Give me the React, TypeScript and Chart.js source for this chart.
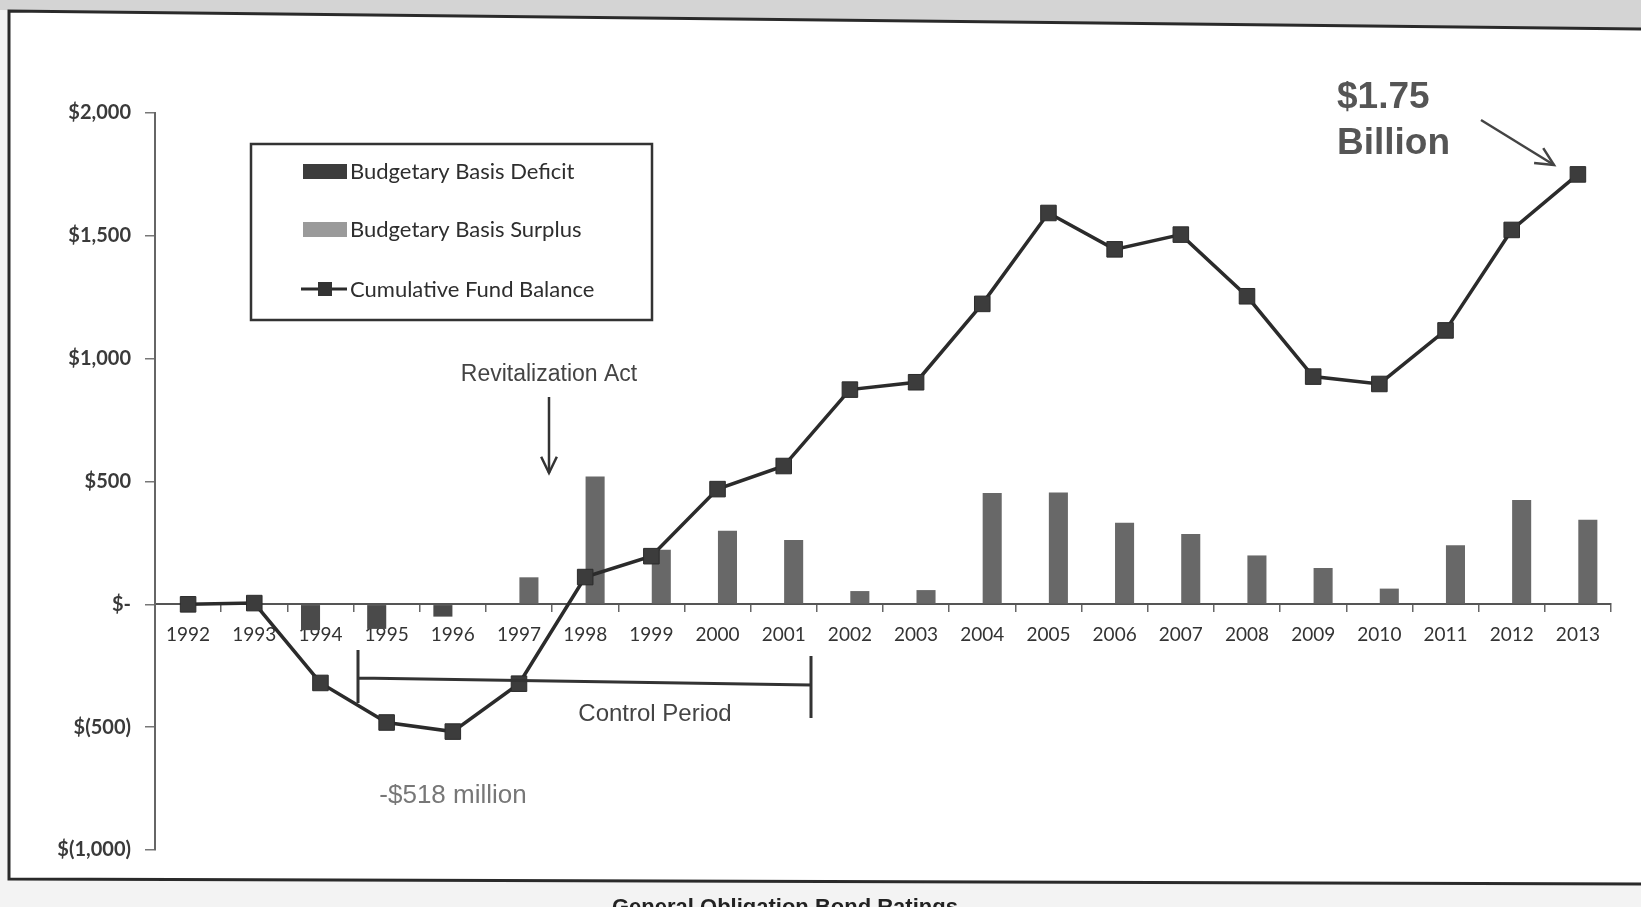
import React, { useEffect, useRef } from "react";
import { Chart, registerables } from "chart.js";

Chart.register(...registerables);

const years = ["1992","1993","1994","1995","1996","1997","1998","1999","2000","2001","2002","2003","2004","2005","2006","2007","2008","2009","2010","2011","2012","2013"];
const balance = [0, 5, -320, -481, -518, -323, 111, 196, 469, 563, 874, 904, 1223, 1593, 1445, 1505, 1254, 927, 897, 1115, 1524, 1750];
const deficit = [null, null, -105, -100, -50, null, null, null, null, null, null, null, null, null, null, null, null, null, null, null, null, null];
const surplus = [null, null, null, null, null, 110, 520, 222, 300, 262, 54, 58, 453, 455, 332, 286, 199, 148, 64, 241, 425, 344];
const yTicks = [-1000, -500, 0, 500, 1000, 1500, 2000];

const fmtY = (v: number) => {
  if (v === 0) return "$-";
  const s = Math.abs(v).toLocaleString("en-US");
  return v < 0 ? `$(${s})` : `$${s}`;
};

const arrow = (ctx: CanvasRenderingContext2D, x1: number, y1: number, x2: number, y2: number, head: number) => {
  ctx.beginPath();
  ctx.moveTo(x1, y1);
  ctx.lineTo(x2, y2);
  ctx.stroke();
  const a = Math.atan2(y2 - y1, x2 - x1);
  ctx.beginPath();
  ctx.moveTo(x2 - head * Math.cos(a - 0.45), y2 - head * Math.sin(a - 0.45));
  ctx.lineTo(x2, y2);
  ctx.lineTo(x2 - head * Math.cos(a + 0.45), y2 - head * Math.sin(a + 0.45));
  ctx.stroke();
};

const decor = {
  id: "decor",
  beforeDraw(chart: any) {
    const ctx = chart.ctx as CanvasRenderingContext2D;
    const W = chart.width, H = chart.height;
    ctx.save();
    ctx.fillStyle = "#f3f3f3";
    ctx.fillRect(0, 0, W, H);
    ctx.fillStyle = "#ffffff";
    ctx.beginPath();
    ctx.moveTo(9, 11);
    ctx.lineTo(W, 29);
    ctx.lineTo(W, 884);
    ctx.lineTo(9, 879);
    ctx.closePath();
    ctx.fill();
    ctx.fillStyle = "#d4d4d4";
    ctx.beginPath();
    ctx.moveTo(0, 0);
    ctx.lineTo(W, 0);
    ctx.lineTo(W, 28);
    ctx.lineTo(0, 10);
    ctx.closePath();
    ctx.fill();
    ctx.restore();
  },
  afterDraw(chart: any) {
    const ctx = chart.ctx as CanvasRenderingContext2D;
    const W = chart.width;
    ctx.save();
    // frame
    ctx.strokeStyle = "#2a2a2a";
    ctx.lineWidth = 3;
    ctx.beginPath();
    ctx.moveTo(W, 29);
    ctx.lineTo(9, 11);
    ctx.lineTo(9, 879);
    ctx.lineTo(W, 884);
    ctx.stroke();

    // legend
    ctx.lineWidth = 2.5;
    ctx.strokeStyle = "#333";
    ctx.fillStyle = "#ffffff";
    ctx.fillRect(251, 144, 401, 176);
    ctx.strokeRect(251, 144, 401, 176);
    ctx.font = "22px Lato";
    ctx.textBaseline = "middle";
    ctx.textAlign = "left";
    ctx.fillStyle = "#3c3c3c";
    ctx.fillRect(303, 164, 44, 15);
    ctx.fillStyle = "#9a9a9a";
    ctx.fillRect(303, 222, 44, 15);
    ctx.strokeStyle = "#2b2b2b";
    ctx.lineWidth = 3;
    ctx.beginPath();
    ctx.moveTo(301, 289);
    ctx.lineTo(347, 289);
    ctx.stroke();
    ctx.fillStyle = "#333";
    ctx.fillRect(318, 282, 14, 14);
    ctx.fillStyle = "#2e2e2e";
    ctx.fillText("Budgetary Basis Deficit", 350, 172);
    ctx.fillText("Budgetary Basis Surplus", 350, 230);
    ctx.fillText("Cumulative Fund Balance", 350, 290);

    // annotations
    ctx.fillStyle = "#444";
    ctx.textAlign = "center";
    ctx.font = "23px 'Liberation Sans'";
    ctx.fillText("Revitalization Act", 549, 375);
    ctx.font = "24px 'Liberation Sans'";
    ctx.fillText("Control Period", 655, 714);
    ctx.strokeStyle = "#333";
    ctx.lineWidth = 2.5;
    arrow(ctx, 549, 397, 549, 473, 18);

    ctx.lineWidth = 3;
    ctx.beginPath();
    ctx.moveTo(358, 678);
    ctx.lineTo(811, 685);
    ctx.moveTo(358, 650);
    ctx.lineTo(358, 703);
    ctx.moveTo(811, 656);
    ctx.lineTo(811, 718);
    ctx.stroke();

    ctx.fillStyle = "#777";
    ctx.font = "26px 'Liberation Sans'";
    ctx.fillText("-$518 million", 453, 796);

    ctx.fillStyle = "#555";
    ctx.textAlign = "left";
    ctx.textBaseline = "alphabetic";
    ctx.font = "bold 37px 'Liberation Sans'";
    ctx.fillText("$1.75", 1337, 108);
    ctx.fillText("Billion", 1337, 154);
    ctx.strokeStyle = "#444";
    ctx.lineWidth = 2.5;
    arrow(ctx, 1481, 120, 1554, 165, 20);

    // cut-off caption at bottom
    ctx.fillStyle = "#222";
    ctx.textBaseline = "top";
    ctx.font = "bold 22px 'Liberation Sans'";
    ctx.fillText("General Obligation Bond Ratings", 612, 897);
    ctx.restore();
  },
};

export default function App() {
  const ref = useRef<HTMLCanvasElement | null>(null);
  useEffect(() => {
    document.body.style.margin = "0";
    const canvas = ref.current;
    if (!canvas) return;
    const chart = new Chart(canvas, {
      type: "bar",
      data: {
        labels: years,
        datasets: [
          {
            type: "line",
            label: "Cumulative Fund Balance",
            data: balance,
            borderColor: "#2b2b2b",
            borderWidth: 3.5,
            pointStyle: "rect",
            pointRadius: 11,
            pointBackgroundColor: "#3c3c3c",
            pointBorderColor: "#2b2b2b",
            pointBorderWidth: 1,
            tension: 0,
            order: 0,
          } as any,
          {
            label: "Budgetary Basis Deficit",
            data: deficit,
            backgroundColor: "#4a4a4a",
            categoryPercentage: 0.6,
            barPercentage: 0.96,
            order: 1,
          },
          {
            label: "Budgetary Basis Surplus",
            data: surplus,
            backgroundColor: "#686868",
            categoryPercentage: 0.6,
            barPercentage: 0.96,
            order: 1,
          },
        ],
      },
      options: {
        responsive: false,
        animation: false,
        layout: { padding: { left: 0, top: 113, right: 30, bottom: 57 } },
        plugins: { legend: { display: false }, tooltip: { enabled: false } },
        scales: {
          x: {
            position: { y: 0 } as any,
            offset: true,
            grid: { display: true, drawOnChartArea: false, offset: true, tickLength: 7, color: "#666", lineWidth: 1.5 },
            border: { display: true, color: "#555", width: 2 },
            ticks: { font: { family: "Lato", size: 19 }, color: "#333", padding: 12, maxRotation: 0, autoSkip: false },
          },
          y: {
            min: -1000,
            max: 2000,
            afterBuildTicks: (s: any) => {
              s.ticks = yTicks.map((v) => ({ value: v }));
            },
            afterFit: (s: any) => {
              s.width = 155;
            },
            ticks: {
              callback: (v: any) => fmtY(Number(v)),
              font: { family: "Lato", size: 20, weight: "bold" },
              color: "#3a3a3a",
              padding: 14,
            },
            grid: { drawOnChartArea: false, tickLength: 10, color: "#777", lineWidth: 1.5 },
            border: { display: true, color: "#666", width: 2 },
          },
        },
      },
      plugins: [decor],
    });
    return () => chart.destroy();
  }, []);
  return <canvas ref={ref} width={1641} height={907} style={{ display: "block" }} />;
}
